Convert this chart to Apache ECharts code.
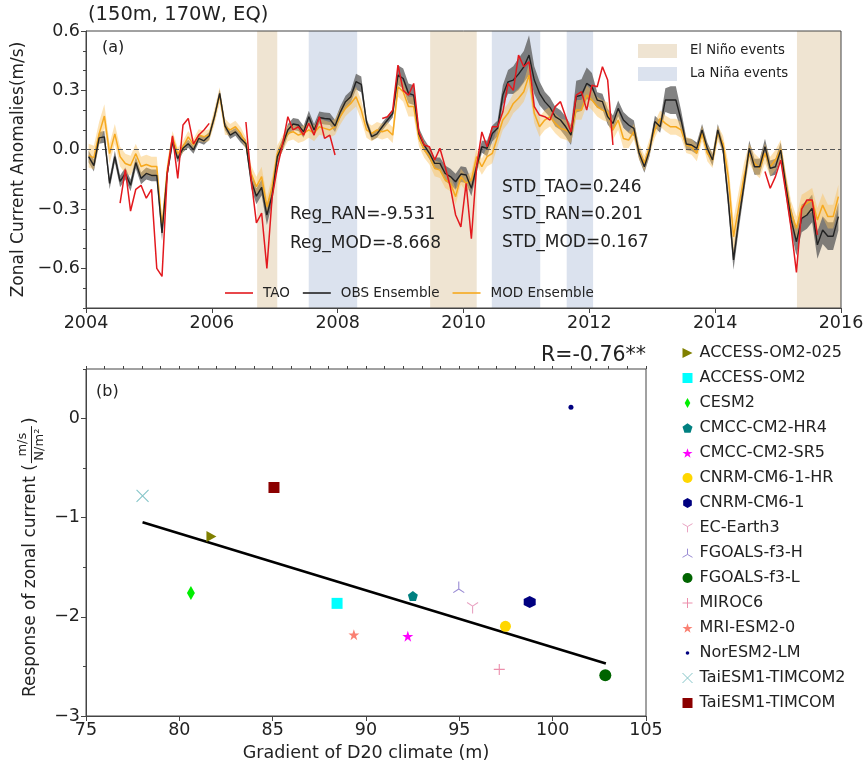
<!DOCTYPE html>
<html>
<head>
<meta charset="utf-8">
<script src="https://cdn.jsdelivr.net/npm/echarts@6/dist/echarts.min.js"></script>
<style>
html,body{margin:0;padding:0;background:#ffffff;}
#chart{width:867px;height:763px;}
</style>
</head>
<body>
<div id="chart"></div>
<script>
// ---------------- Panel (a): monthly series, Jan 2004 .. Dec 2015 ----------------
const startYear = 2004;
const yearTicks = [2004, 2006, 2008, 2010, 2012, 2014, 2016];
const anomalyTicks = [-0.6, -0.3, 0, 0.3, 0.6];

const taoSeries = [
  null,null,null,null,null,null,-0.27,-0.10,-0.31,-0.20,
  -0.18,-0.245,-0.20,-0.60,-0.64,-0.12,0.07,-0.145,0.125,0.158,
  0.03,0.074,0.10,0.133,null,null,null,null,null,null,
  0.14,-0.15,-0.37,-0.32,-0.60,-0.24,-0.09,0.03,0.167,0.10,
  0.116,0.074,0.133,0.074,0.167,0.057,0.074,-0.027,null,null,
  null,null,null,null,null,null,0.158,0.167,0.20,0.428,
  0.30,0.275,0.335,0.09,0.024,0.015,-0.052,0.007,-0.086,-0.19,
  -0.33,-0.39,-0.17,-0.45,-0.086,0.09,0.015,0.116,0.116,0.19,
  0.335,0.30,0.478,0.419,0.445,0.218,0.175,0.167,0.15,0.218,
  0.243,0.167,0.09,0.276,0.293,0.20,0.326,0.318,0.419,0.352,
  0.024,null,null,null,null,null,null,null,null,null,
  null,null,null,null,null,null,null,null,null,null,
  null,null,null,null,null,null,null,null,null,-0.11,
  -0.195,-0.136,-0.052,-0.22,-0.40,-0.62,-0.30,-0.254,-0.254,-0.43,
  null,null,null,null
];

const obsEnsemble = [
  -0.035,-0.08,0.06,0.065,-0.17,-0.035,-0.16,-0.12,-0.18,-0.065,
  -0.145,-0.12,-0.13,-0.13,-0.42,-0.12,0.04,-0.045,0.007,0.03,
  0.0,0.057,0.045,0.07,0.167,0.285,0.12,0.074,0.09,0.057,
  0.03,-0.155,-0.235,-0.19,-0.33,-0.23,-0.035,0.025,0.1,0.13,
  0.125,0.09,0.167,0.1,0.163,0.158,0.155,0.12,0.19,0.243,
  0.268,0.344,0.33,0.14,0.066,0.08,0.116,0.15,0.183,0.377,
  0.36,0.285,0.276,0.08,0.023,-0.018,-0.069,-0.069,-0.12,-0.136,
  -0.162,-0.123,-0.128,-0.195,-0.086,0.015,0.007,0.082,0.108,0.276,
  0.343,0.352,0.382,0.419,0.478,0.352,0.285,0.243,0.214,0.167,
  0.15,0.116,0.074,0.268,0.276,0.335,0.318,0.251,0.243,0.167,
  0.133,0.209,0.15,0.125,0.108,-0.018,-0.086,-0.002,0.142,0.116,
  0.251,0.251,0.251,0.15,0.029,0.024,0.007,0.1,0.007,-0.052,
  0.1,0.007,-0.254,-0.557,-0.355,-0.178,0.007,-0.086,-0.086,0.015,
  -0.094,-0.086,-0.002,-0.187,-0.355,-0.465,-0.347,-0.33,-0.296,-0.481,
  -0.406,-0.437,-0.437,-0.338
];

const obsSpread = [
  0.03,0.03,0.03,0.03,0.03,0.03,0.03,0.03,0.03,0.03,
  0.03,0.03,0.03,0.03,0.04,0.02,0.02,0.02,0.02,0.02,
  0.02,0.02,0.02,0.02,0.02,0.02,0.02,0.02,0.02,0.02,
  0.02,0.04,0.04,0.04,0.05,0.04,0.03,0.03,0.03,0.03,
  0.03,0.03,0.03,0.03,0.03,0.03,0.03,0.03,0.03,0.03,
  0.03,0.04,0.04,0.02,0.02,0.02,0.02,0.02,0.02,0.05,
  0.05,0.05,0.05,0.03,0.03,0.03,0.03,0.03,0.04,0.04,
  0.04,0.04,0.04,0.04,0.03,0.03,0.04,0.04,0.04,0.05,
  0.06,0.07,0.08,0.08,0.10,0.07,0.06,0.05,0.05,0.05,
  0.05,0.05,0.05,0.08,0.08,0.08,0.07,0.04,0.04,0.04,
  0.04,0.04,0.04,0.04,0.04,0.03,0.03,0.03,0.03,0.03,
  0.06,0.07,0.07,0.05,0.03,0.03,0.03,0.03,0.03,0.03,
  0.03,0.03,0.05,0.05,0.05,0.04,0.04,0.04,0.04,0.04,
  0.04,0.04,0.04,0.05,0.06,0.07,0.07,0.07,0.07,0.07,
  0.07,0.07,0.07,0.07
];

const modEnsemble = [
  -0.03,-0.04,0.08,0.17,-0.02,0.08,-0.035,-0.07,-0.08,-0.02,
  -0.085,-0.075,-0.085,-0.085,-0.39,-0.1,0.065,-0.02,0.015,0.065,
  0.025,0.074,0.066,0.074,0.167,0.276,0.116,0.1,0.116,0.083,
  0.032,-0.12,-0.187,-0.136,-0.288,-0.187,-0.018,0.032,0.083,0.091,
  0.074,0.083,0.1,0.083,0.116,0.108,0.1,0.116,0.167,0.209,
  0.234,0.268,0.2,0.1,0.083,0.1,0.091,0.1,0.074,0.318,
  0.293,0.218,0.218,0.057,0.0,-0.035,-0.094,-0.103,-0.153,-0.17,
  -0.237,-0.136,-0.17,-0.153,-0.035,-0.086,-0.035,-0.018,0.066,0.15,
  0.184,0.234,0.26,0.293,0.377,0.184,0.116,0.15,0.167,0.133,
  0.108,0.1,0.083,0.201,0.201,0.276,0.251,0.218,0.2,0.19,
  0.1,0.15,0.057,0.049,0.091,-0.01,-0.069,0.015,0.1,0.158,
  0.133,0.116,0.116,0.1,0.024,0.015,-0.018,0.083,-0.018,-0.052,
  0.083,0.032,-0.136,-0.44,-0.288,-0.136,-0.018,-0.069,-0.094,-0.018,
  -0.086,-0.052,0.0,-0.17,-0.32,-0.397,-0.288,-0.271,-0.254,-0.355,
  -0.28,-0.338,-0.338,-0.237
];

const modSpread = [
  0.06,0.06,0.06,0.06,0.05,0.05,0.05,0.05,0.05,0.05,
  0.05,0.05,0.05,0.05,0.04,0.04,0.03,0.03,0.03,0.03,
  0.03,0.03,0.03,0.03,0.04,0.04,0.04,0.03,0.03,0.03,
  0.03,0.04,0.05,0.05,0.05,0.05,0.04,0.04,0.04,0.04,
  0.04,0.04,0.04,0.04,0.04,0.04,0.04,0.04,0.04,0.04,
  0.04,0.05,0.05,0.04,0.04,0.04,0.04,0.04,0.04,0.05,
  0.05,0.05,0.05,0.04,0.04,0.04,0.04,0.04,0.04,0.04,
  0.04,0.04,0.04,0.04,0.04,0.04,0.05,0.05,0.05,0.05,
  0.05,0.05,0.05,0.05,0.06,0.05,0.05,0.05,0.05,0.05,
  0.05,0.05,0.05,0.05,0.05,0.05,0.05,0.05,0.05,0.05,
  0.05,0.05,0.05,0.04,0.04,0.04,0.04,0.04,0.04,0.04,
  0.04,0.04,0.04,0.04,0.04,0.04,0.04,0.04,0.04,0.04,
  0.04,0.04,0.07,0.09,0.08,0.07,0.05,0.05,0.05,0.05,
  0.05,0.05,0.05,0.05,0.06,0.06,0.06,0.06,0.06,0.06,
  0.06,0.06,0.06,0.06
];

const elNinoPeriods = [[2006.72, 2007.04], [2009.47, 2010.21], [2015.30, 2016.0]];
const laNinaPeriods = [[2007.54, 2008.31], [2010.45, 2011.22], [2011.64, 2012.06]];

// ---------------- Panel (b): model scatter ----------------
const modelNames = ['ACCESS-OM2-025','ACCESS-OM2','CESM2','CMCC-CM2-HR4','CMCC-CM2-SR5',
  'CNRM-CM6-1-HR','CNRM-CM6-1','EC-Earth3','FGOALS-f3-H','FGOALS-f3-L','MIROC6',
  'MRI-ESM2-0','NorESM2-LM','TaiESM1-TIMCOM2','TaiESM1-TIMCOM'];
const d20Gradient = [81.72, 88.45, 80.62, 92.51, 92.24, 97.47, 98.77, 95.71, 94.97, 102.82, 97.14, 89.35, 100.98, 78.03, 85.07];
const currentResponse = [-1.19, -1.864, -1.76, -1.79, -2.195, -2.095, -1.85, -1.91, -1.70, -2.59, -2.53, -2.18, 0.114, -0.78, -0.695];
const fitEnds = [[78.03, -1.046], [102.85, -2.47]];
const gradientTicks = [75, 80, 85, 90, 95, 100, 105];
const responseTicks = [-3, -2, -1, 0];

// ---------------- styling ----------------
const FF = '"DejaVu Sans", sans-serif';
const AXC = '#444';
const TXT = '#222';
const TAN = '#efe4d2';
const LBLUE = '#dbe2ee';
const RED = '#e3191e';
const BLACK = '#222222';
const ORANGE = '#f6a91f';

const markerStyles = {
  'ACCESS-OM2-025': {symbol:'path://M0,0 L10,5 L0,10 Z', size:[10,11], color:'#808000'},
  'ACCESS-OM2': {symbol:'rect', size:11, color:'#00ffff'},
  'CESM2': {symbol:'diamond', size:[8,14], color:'#00ee00',
     legendIcon:'path://M0,50 L0,50 M100,50 L100,50 M50,0 L78,50 L50,100 L22,50 Z'},
  'CMCC-CM2-HR4': {symbol:'path://M50,0 L97.6,34.5 L79.4,90.5 L20.6,90.5 L2.4,34.5 Z', size:10, color:'#008080'},
  'CMCC-CM2-SR5': {symbol:'path://M50,0 L61.8,35.1 L98.1,35.1 L68.8,56.7 L79.4,90.5 L50,69.1 L20.6,90.5 L31.2,56.7 L1.9,35.1 L38.2,35.1 Z', size:11, color:'#ff00ff'},
  'CNRM-CM6-1-HR': {symbol:'circle', size:11, color:'#ffd700'},
  'CNRM-CM6-1': {symbol:'path://M50,0 L93.3,25 L93.3,75 L50,100 L6.7,75 L6.7,25 Z', size:12, color:'#000080'},
  'EC-Earth3': {symbol:'path://M50,50 L50,100 M50,50 L6.7,25 M50,50 L93.3,25', size:11, color:'#e9a3c2', stroke:true},
  'FGOALS-f3-H': {symbol:'path://M50,50 L50,0 M50,50 L6.7,75 M50,50 L93.3,75', size:11, color:'#9a8cd4', stroke:true},
  'FGOALS-f3-L': {symbol:'circle', size:12, color:'#006400'},
  'MIROC6': {symbol:'path://M50,0 L50,100 M0,50 L100,50', size:11, color:'#ec8fac', stroke:true},
  'MRI-ESM2-0': {symbol:'path://M50,0 L61.8,35.1 L98.1,35.1 L68.8,56.7 L79.4,90.5 L50,69.1 L20.6,90.5 L31.2,56.7 L1.9,35.1 L38.2,35.1 Z', size:11, color:'#fa8072'},
  'NorESM2-LM': {symbol:'circle', size:5, color:'#000080',
     legendIcon:'path://M0,0 L0,0 M100,100 L100,100 M32,50 A18,18 0 1,1 68,50 A18,18 0 1,1 32,50 Z'},
  'TaiESM1-TIMCOM2': {symbol:'path://M0,0 L100,100 M100,0 L0,100', size:12, color:'#86c6c9', stroke:true},
  'TaiESM1-TIMCOM': {symbol:'rect', size:11, color:'#8b0000'}
};

function monthTime(i) { return startYear + (i + 0.5) / 12; }
function toPairs(arr) { return arr.map((v, i) => [monthTime(i), v == null ? '-' : v]); }
function signed1(v) { const s = Math.abs(v).toFixed(1); return v < -1e-9 ? '\u2212' + s : s; }
function signed0(v) { return v < 0 ? '\u2212' + Math.abs(v) : String(v); }

function bandSeries(name, center, spread, fill, z) {
  return {
    type: 'custom', name: name, xAxisIndex: 0, yAxisIndex: 0, z: z, silent: true,
    data: [[startYear, 0]],
    encode: {x: 0, y: 1},
    renderItem: function (params, api) {
      const up = [], lo = [];
      for (let i = 0; i < center.length; i++) {
        up.push(api.coord([monthTime(i), center[i] + spread[i]]));
        lo.push(api.coord([monthTime(i), center[i] - spread[i]]));
      }
      return {type: 'polygon', shape: {points: up.concat(lo.reverse())}, style: {fill: fill}};
    }
  };
}

const scatterSeries = modelNames.map((name, k) => {
  const m = markerStyles[name];
  return {
    type: 'scatter', name: name, xAxisIndex: 1, yAxisIndex: 2, z: 5,
    data: [[d20Gradient[k], currentResponse[k]]],
    symbol: m.symbol, symbolSize: m.size, symbolKeepAspect: false,
    itemStyle: m.stroke ? {color: 'rgba(0,0,0,0)', borderColor: m.color, borderWidth: 1.1, opacity: 1}
                        : {color: m.color, opacity: 1}
  };
});

const legendModelData = modelNames.map(name => {
  const m = markerStyles[name];
  const item = {name: name};
  if (m.legendIcon) item.icon = m.legendIcon;
  if (m.stroke) item.itemStyle = {borderWidth: 1};
  return item;
});

// measure text for the composite y label of panel (b)
const mctx = document.createElement('canvas').getContext('2d');
function textWidth(t, size) { mctx.font = size + 'px ' + FF; return mctx.measureText(t).width; }
const yLabB = 'Response of zonal current (';
const yLabBW = textWidth(yLabB, 17);
const fracW = Math.max(textWidth('m/s', 13), textWidth('N/m2', 13)) + 2;
const fracCx = yLabBW + fracW / 2 + 1;

const chart = echarts.init(document.getElementById('chart'), null, {renderer: 'canvas'});

const TZ = 100;
const option = {
  animation: false,
  backgroundColor: '#ffffff',
  textStyle: {fontFamily: FF},
  grid: [
    {left: 86, top: 31, width: 755, height: 277, show: true, borderColor: AXC, borderWidth: 1, backgroundColor: 'transparent', z: 10},
    {left: 86, top: 369, width: 560, height: 349, show: true, borderColor: AXC, borderWidth: 1, backgroundColor: 'transparent'}
  ],
  xAxis: [
    {gridIndex: 0, type: 'value', min: 2004, max: 2016, interval: 2,
     axisLine: {onZero: false, lineStyle: {color: AXC, width: 1}},
     axisTick: {length: 5, lineStyle: {color: AXC}},
     axisLabel: {fontSize: 17.5, color: TXT, margin: 6, fontFamily: FF, formatter: v => String(v)},
     splitLine: {show: false}},
    {gridIndex: 1, type: 'value', min: 75, max: 105, interval: 5,
     name: 'Gradient of D20 climate (m)', nameLocation: 'middle', nameGap: 28,
     nameTextStyle: {fontSize: 17.5, color: TXT, fontFamily: FF},
     axisLine: {onZero: false, lineStyle: {color: AXC, width: 1}},
     axisTick: {length: 5, lineStyle: {color: AXC}},
     axisLabel: {fontSize: 17.5, color: TXT, margin: 5, fontFamily: FF},
     splitLine: {show: false}},
    {gridIndex: 1, type: 'value', min: 75, max: 105, interval: 1,
     axisLine: {show: false, onZero: false},
     axisTick: {length: 3, lineStyle: {color: AXC}},
     axisLabel: {show: false}, splitLine: {show: false}}
  ],
  yAxis: [
    {gridIndex: 0, type: 'value', min: -0.8, max: 0.6, interval: 0.1, position: 'left',
     name: 'Zonal Current Anomalies(m/s)', nameLocation: 'middle', nameGap: 46,
     nameTextStyle: {fontSize: 17, color: TXT, fontFamily: FF},
     axisLine: {show: true, onZero: false, lineStyle: {color: AXC, width: 1}},
     axisTick: {show: true, length: 5, customValues: anomalyTicks, lineStyle: {color: AXC}},
     axisLabel: {fontSize: 17.5, color: TXT, margin: 6, fontFamily: FF, customValues: anomalyTicks, formatter: signed1},
     splitLine: {show: false}},
    {gridIndex: 0, type: 'value', min: -0.8, max: 0.6, interval: 0.1, position: 'left',
     axisLine: {show: false, onZero: false},
     axisTick: {show: true, length: 3, lineStyle: {color: AXC}},
     axisLabel: {show: false}, splitLine: {show: false}},
    {gridIndex: 1, type: 'value', min: -3, max: 0.5, interval: 1, position: 'left',
     axisLine: {show: true, onZero: false, lineStyle: {color: AXC, width: 1}},
     axisTick: {show: true, length: 5, customValues: responseTicks, lineStyle: {color: AXC}},
     axisLabel: {fontSize: 17.5, color: TXT, margin: 6, fontFamily: FF, customValues: responseTicks, formatter: signed0},
     splitLine: {show: false}},
    {gridIndex: 1, type: 'value', min: -3, max: 0.5, interval: 0.5, position: 'left',
     axisLine: {show: false, onZero: false},
     axisTick: {show: true, length: 3, lineStyle: {color: AXC}},
     axisLabel: {show: false}, splitLine: {show: false}}
  ],
  legend: [
    {data: [{name: 'TAO', icon: 'rect', itemStyle: {color: RED}},
            {name: 'OBS Ensemble', icon: 'rect', itemStyle: {color: BLACK}},
            {name: 'MOD Ensemble', icon: 'rect', itemStyle: {color: ORANGE}}],
     left: 225, top: 286, padding: 0, itemWidth: 28, itemHeight: 1.6, itemGap: 13, z: 20,
     textStyle: {fontSize: 13.5, color: TXT, fontFamily: FF, padding: [0, 0, 0, 5]}, selectedMode: false},
    {data: [{name: 'El Niño events', icon: 'rect', itemStyle: {color: TAN}},
            {name: 'La Niña events', icon: 'rect', itemStyle: {color: LBLUE}}],
     orient: 'vertical', left: 638, top: 44, padding: 0, itemWidth: 39, itemHeight: 14, itemGap: 9, z: 20,
     textStyle: {fontSize: 13.2, color: TXT, fontFamily: FF, padding: [0, 0, 0, 8]}, selectedMode: false},
    {data: legendModelData, orient: 'vertical', left: 682, top: 345, padding: 0, itemWidth: 10, itemHeight: 10, itemGap: 9,
     textStyle: {fontSize: 16, color: TXT, fontFamily: FF, padding: [0, 0, 0, 2]}, selectedMode: false}
  ],
  series: [
    {type: 'line', name: 'El Niño events', xAxisIndex: 0, yAxisIndex: 0, data: [], z: 0,
     itemStyle: {color: TAN}, lineStyle: {color: TAN},
     markArea: {silent: true, itemStyle: {color: TAN, opacity: 1},
       data: elNinoPeriods.map(p => [{xAxis: p[0]}, {xAxis: p[1]}])}},
    {type: 'line', name: 'La Niña events', xAxisIndex: 0, yAxisIndex: 0, data: [], z: 0,
     itemStyle: {color: LBLUE}, lineStyle: {color: LBLUE},
     markArea: {silent: true, itemStyle: {color: LBLUE, opacity: 1},
       data: laNinaPeriods.map(p => [{xAxis: p[0]}, {xAxis: p[1]}])}},
    bandSeries('OBS spread', obsEnsemble, obsSpread, 'rgba(95,95,95,0.78)', 2),
    bandSeries('MOD spread', modEnsemble, modSpread, 'rgba(250,192,90,0.45)', 3),
    {type: 'line', name: 'MOD Ensemble', xAxisIndex: 0, yAxisIndex: 0, z: 4,
     data: toPairs(modEnsemble), symbol: 'none', showSymbol: false,
     lineStyle: {color: ORANGE, width: 1.5}, itemStyle: {color: ORANGE}},
    {type: 'line', name: 'OBS Ensemble', xAxisIndex: 0, yAxisIndex: 0, z: 5,
     data: toPairs(obsEnsemble), symbol: 'none', showSymbol: false,
     lineStyle: {color: BLACK, width: 1.4}, itemStyle: {color: BLACK},
     markLine: {silent: true, symbol: ['none', 'none'], label: {show: false},
       lineStyle: {color: '#555555', type: [5, 3], width: 1.1}, data: [{yAxis: 0}]}},
    {type: 'line', name: 'TAO', xAxisIndex: 0, yAxisIndex: 0, z: 6,
     data: toPairs(taoSeries), symbol: 'none', showSymbol: false, connectNulls: false,
     lineStyle: {color: RED, width: 1.5}, itemStyle: {color: RED}},
    {type: 'line', name: 'fit', xAxisIndex: 1, yAxisIndex: 2, z: 4, silent: true,
     data: fitEnds, symbol: 'none', showSymbol: false,
     lineStyle: {color: '#000000', width: 2.6}, itemStyle: {color: '#000000'}}
  ].concat(scatterSeries),
  graphic: [
    {type: 'text', z: TZ, left: 88, top: 5, style: {text: '(150m, 170W, EQ)', font: '19.5px ' + FF, fill: TXT}},
    {type: 'text', z: TZ, left: 102, top: 40, style: {text: '(a)', font: '16px ' + FF, fill: TXT}},
    {type: 'text', z: TZ, x: 290, y: 215, style: {text: 'Reg_RAN=-9.531', font: '17px ' + FF, fill: TXT, verticalAlign: 'middle'}},
    {type: 'text', z: TZ, x: 290, y: 244, style: {text: 'Reg_MOD=-8.668', font: '17px ' + FF, fill: TXT, verticalAlign: 'middle'}},
    {type: 'text', z: TZ, x: 502, y: 188, style: {text: 'STD_TAO=0.246', font: '17px ' + FF, fill: TXT, verticalAlign: 'middle'}},
    {type: 'text', z: TZ, x: 502, y: 215, style: {text: 'STD_RAN=0.201', font: '17px ' + FF, fill: TXT, verticalAlign: 'middle'}},
    {type: 'text', z: TZ, x: 502, y: 243, style: {text: 'STD_MOD=0.167', font: '17px ' + FF, fill: TXT, verticalAlign: 'middle'}},
    {type: 'text', z: TZ, left: 96, top: 384, style: {text: '(b)', font: '16px ' + FF, fill: TXT}},
    {type: 'text', z: TZ, x: 646, y: 356, style: {text: 'R=-0.76**', font: '20.5px ' + FF, fill: TXT, align: 'right', verticalAlign: 'middle'}},
    {type: 'group', z: TZ, x: 31, y: 697, rotation: Math.PI / 2, children: [
      {type: 'text', z: TZ, x: 0, y: 0, style: {text: yLabB, font: '17px ' + FF, fill: TXT, align: 'left', verticalAlign: 'middle'}},
      {type: 'text', z: TZ, x: fracCx, y: -8, style: {text: 'm/s', font: '13px ' + FF, fill: TXT, align: 'center', verticalAlign: 'middle'}},
      {type: 'text', z: TZ, x: fracCx, y: 9, style: {text: 'N/m\u00b2', font: '13px ' + FF, fill: TXT, align: 'center', verticalAlign: 'middle'}},
      {type: 'line', z: TZ, shape: {x1: fracCx - fracW / 2, y1: 0.5, x2: fracCx + fracW / 2, y2: 0.5}, style: {stroke: TXT, lineWidth: 1}},
      {type: 'text', z: TZ, x: yLabBW + fracW + 3, y: 0, style: {text: ')', font: '17px ' + FF, fill: TXT, align: 'left', verticalAlign: 'middle'}}
    ]}
  ]
};

chart.setOption(option);
</script>
</body>
</html>
